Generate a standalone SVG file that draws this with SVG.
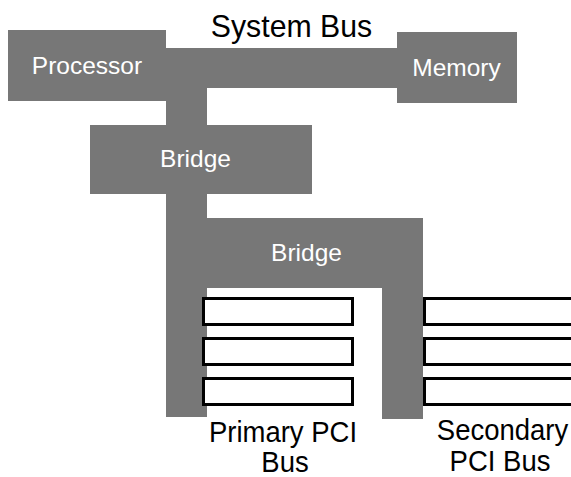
<svg xmlns="http://www.w3.org/2000/svg" width="571" height="477" viewBox="0 0 571 477">
<style>
.blk{fill:#777777}
.slot{fill:#ffffff;stroke:#000000;stroke-width:3}
.lw{font-family:"Liberation Sans",Arial,sans-serif;font-size:24.5px;fill:#ffffff;text-anchor:middle}
.lb{font-family:"Liberation Sans",Arial,sans-serif;font-size:27.5px;fill:#000000;text-anchor:middle}
</style>
<rect width="571" height="477" fill="#ffffff"/>
<g id="connectors">
<rect class="blk" x="160" y="48" width="245" height="40"/>
<rect class="blk" x="166" y="86" width="41" height="42"/>
<rect class="blk" x="166" y="190" width="41" height="32"/>
<rect class="blk" x="166" y="218" width="41" height="199"/>
<rect class="blk" x="382" y="218" width="41" height="201"/>
</g>
<g id="processor">
<rect class="blk" x="8" y="30" width="158" height="71"/>
<text class="lw" x="87" y="74">Processor</text>
</g>
<g id="memory">
<rect class="blk" x="397" y="32" width="120" height="71"/>
<text class="lw" x="456.5" y="76">Memory</text>
</g>
<g id="system-bus-label">
<text class="lb" transform="translate(291.5,37) scale(1.1,1.15)" x="0" y="0">System Bus</text>
</g>
<g id="bridge1">
<rect class="blk" x="90" y="125" width="222" height="69"/>
<text class="lw" x="195.5" y="167">Bridge</text>
</g>
<g id="bridge2">
<rect class="blk" x="166" y="218" width="257" height="70"/>
<text class="lw" x="306.5" y="261">Bridge</text>
</g>
<g id="primary-slots">
<rect class="slot" x="203.5" y="298.5" width="149" height="26"/>
<rect class="slot" x="203.5" y="338.5" width="149" height="26"/>
<rect class="slot" x="203.5" y="378.5" width="149" height="26"/>
<text class="lb" transform="translate(283,442) scale(1,1.1)" x="0" y="0">Primary PCI</text>
<text class="lb" transform="translate(285,472) scale(1,1.1)" x="0" y="0">Bus</text>
</g>
<g id="secondary-slots">
<rect class="slot" x="424.5" y="298.5" width="160" height="26"/>
<rect class="slot" x="424.5" y="338.5" width="160" height="26"/>
<rect class="slot" x="424.5" y="378.5" width="160" height="26"/>
<text class="lb" transform="translate(502.5,440) scale(1,1.1)" x="0" y="0">Secondary</text>
<text class="lb" transform="translate(500,471) scale(1,1.1)" x="0" y="0">PCI Bus</text>
</g>
</svg>
